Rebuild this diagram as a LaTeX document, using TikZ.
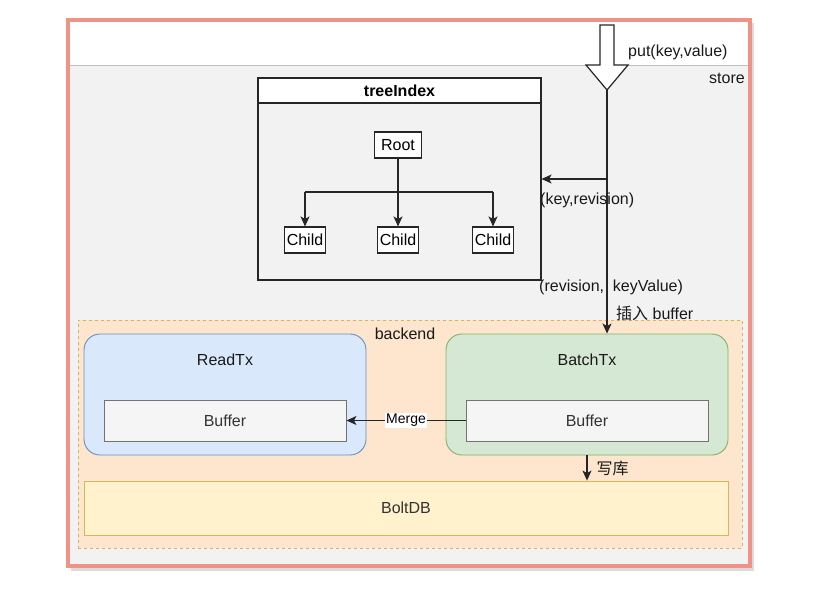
\documentclass[tikz,border=0pt]{standalone}
\usepackage{fontspec}
\setmainfont{Liberation Sans}
\newfontfamily\cjk{Noto Sans CJK SC}
\usepackage{xcolor}
\usepackage{tikz}
\usetikzlibrary{positioning, arrows.meta, calc, backgrounds}
\definecolor{framered}{HTML}{EE9385}
\definecolor{storegray}{HTML}{F2F2F2}
\definecolor{bepeach}{HTML}{FDE5CE}
\definecolor{begold}{HTML}{D6B656}
\definecolor{readblue}{HTML}{DAE8FC}
\definecolor{readedge}{HTML}{6C8EBF}
\definecolor{batchgreen}{HTML}{D5E8D4}
\definecolor{batchedge}{HTML}{82B366}
\definecolor{bufgray}{HTML}{F5F5F5}
\definecolor{boltyellow}{HTML}{FFF2CC}
\definecolor{inktext}{HTML}{333333}
\tikzset{
  lbl/.style={font=\fontsize{16}{19}\selectfont, text=black!90, inner sep=1pt},
  treebox/.style={draw=black!85, line width=1.1pt, fill=white, inner sep=2pt, minimum height=26pt, font=\fontsize{16}{19}\selectfont},
  txbox/.style={line width=0.9pt, rounded corners=16pt, minimum width=282pt, minimum height=121pt},
  bufbox/.style={draw=black!55, line width=0.9pt, fill=bufgray, minimum width=242pt, minimum height=41pt, font=\fontsize{16}{19}\selectfont, text=inktext},
  arrow/.style={-{Stealth[length=10pt, width=9pt, inset=2.5pt]}, line width=1.2pt, draw=black!85},
  link/.style={line width=1.2pt, draw=black!85},
}
\begin{document}
\begin{tikzpicture}[x=1pt, y=-1pt]
  \useasboundingbox (0,0) rectangle (832,589);
  % store frame
  \fill[black!14] (71,23) rectangle (754,571);
  \draw[framered, line width=4pt, fill=storegray] (68,20) rectangle (750,566);
  \fill[white] (70,22) rectangle (748,65);
  \draw[black!25, line width=1pt] (70,65) -- (748,65);
  \node[lbl, anchor=east] (storelbl) at (746,78) {store};

  % put(key,value) entry arrow
  \draw[link, fill=white] (600,25) -- (614,25) -- (614,65) -- (628,65) -- (607,90)
    -- (586,65) -- (600,65) -- cycle;
  \coordinate (puttip) at (607,90);
  \node[lbl, anchor=west] (putlbl) at (627,52) {put(key,value)};

  % treeIndex
  \node[draw=black!85, line width=1.1pt, fill=storegray, minimum width=283pt, minimum height=202pt] (tree) at (399.5,179) {};
  \node[draw=black!85, line width=1.1pt, fill=white, anchor=north, minimum width=283pt, minimum height=25pt,
        font=\fontsize{16}{19}\selectfont\bfseries] (treehead) at (tree.north) {treeIndex};
  \node[treebox, minimum width=47pt] (root) at (398,145) {Root};
  \node[treebox] (child1) at (305,240) {Child};
  \node[treebox] (child2) at (398,240) {Child};
  \node[treebox] (child3) at (493,240) {Child};
  \coordinate (fork) at (398,192);
  \draw[arrow] (root) -- (child2);
  \draw[link] (child1 |- fork) -- (child3 |- fork);
  \draw[arrow] (child1 |- fork) -- (child1);
  \draw[arrow] (child3 |- fork) -- (child3);

  % backend
  \node[draw=begold, fill=bepeach, dash pattern=on 3pt off 3pt, line width=0.9pt,
        minimum width=664pt, minimum height=228pt] (backend) at (410,434) {};
  \node[lbl] (belbl) at (405,334) {backend};
  \node[txbox, draw=readedge, fill=readblue] (read) at (225,394.5) {};
  \node[lbl] (readlbl) at (225,360) {ReadTx};
  \node[bufbox] (readbuf) at (225,420.5) {Buffer};
  \node[txbox, draw=batchedge, fill=batchgreen] (batch) at (587,394.5) {};
  \node[lbl] (batchlbl) at (587,360) {BatchTx};
  \node[bufbox] (batchbuf) at (587,420.5) {Buffer};
  \node[draw=begold, fill=boltyellow, line width=0.9pt, minimum width=644pt, minimum height=54pt,
        font=\fontsize{16}{19}\selectfont, text=inktext] (bolt) at (406,508) {BoltDB};

  % Edges
  \coordinate (keyfork) at (607,179);
  \draw[arrow] (keyfork) -- (keyfork -| tree.east);
  \draw[arrow] (puttip) -- (puttip |- batch.north);
  \node[lbl, anchor=west] (keylbl) at (539,200) {(key,revision)};
  \node[lbl, anchor=west] (kvlbl) at (538,287) {(revision,\ \ keyValue)};
  \node[lbl, anchor=west] (insertlbl) at (615,313) {{\cjk 插入} buffer};
  \draw[arrow] (batchbuf.west) -- node[fill=white, inner sep=1pt, font=\fontsize{14}{16}\selectfont] (mergelbl) {Merge} (readbuf.east);
  \draw[arrow] (batch.south) -- node[lbl, right=8pt, font=\fontsize{16}{19}\selectfont\cjk] (writelbl) {写库} (batch.south |- bolt.north);
\end{tikzpicture}
\end{document}
